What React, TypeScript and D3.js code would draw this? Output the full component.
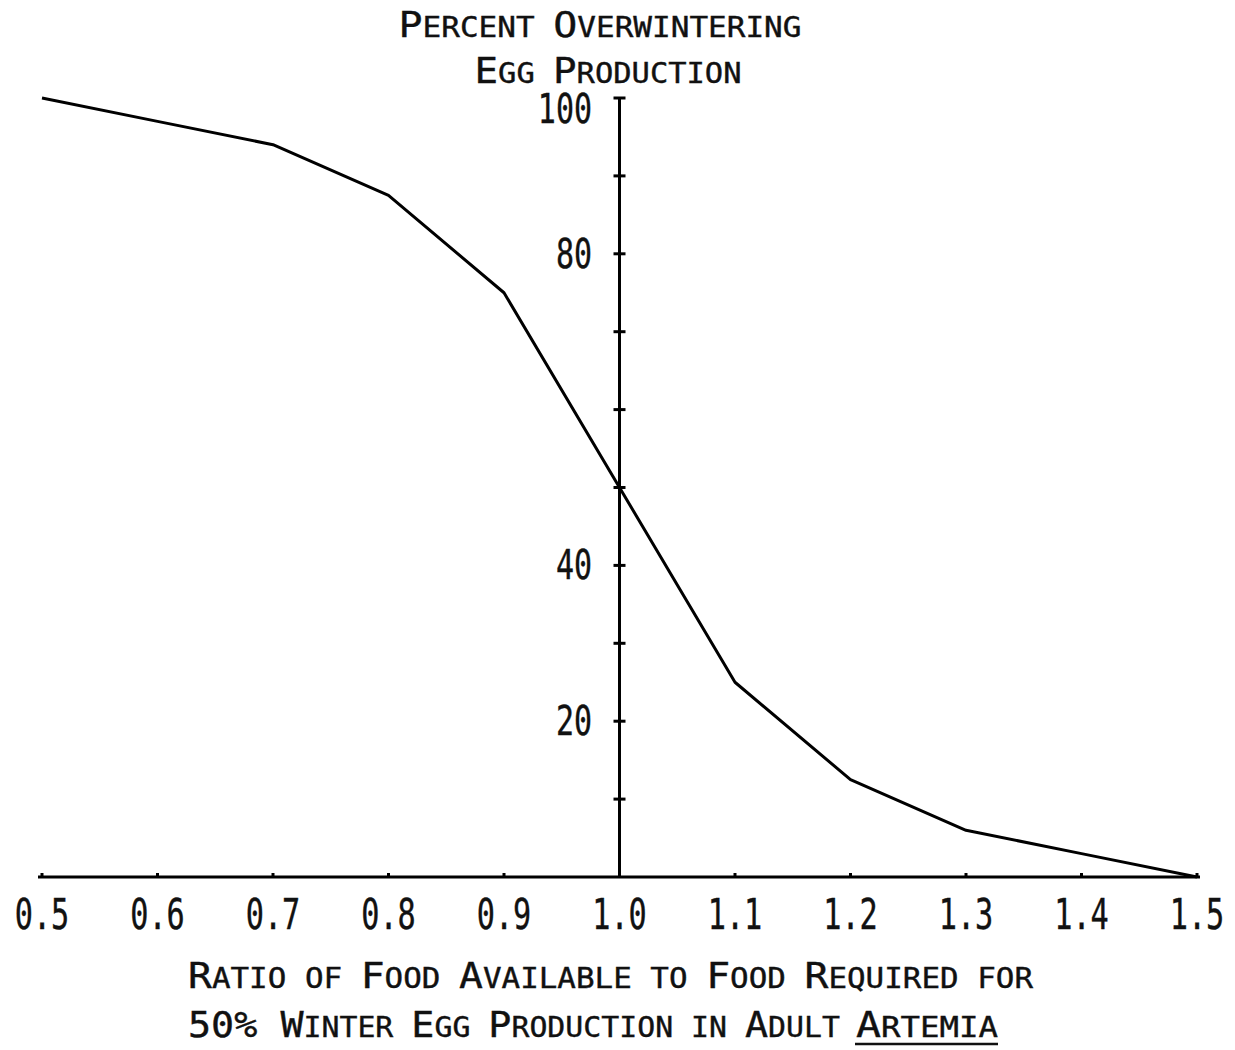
import React from "react";
import * as d3 from "d3";

// Ratio of food available to food required (x) vs. percent overwintering egg production (y)
const foodRatio = [0.5, 0.6, 0.7, 0.8, 0.9, 1.0, 1.1, 1.2, 1.3, 1.4, 1.5];
const eggProduction = [100, 97, 94, 87.5, 75, 50, 25, 12.5, 6, 3, 0];

const xTickValues = [0.5, 0.6, 0.7, 0.8, 0.9, 1.0, 1.1, 1.2, 1.3, 1.4, 1.5];
const yTickValues = [10, 20, 30, 40, 50, 60, 70, 80, 90, 100];
const yLabelValues = [20, 40, 80, 100];

// Small-caps title lines: [text, isCapital]
type Run = [string, boolean];
const titleLine1: Run[] = [["P", true], ["ERCENT ", false], ["O", true], ["VERWINTERING", false]];
const titleLine2: Run[] = [["E", true], ["GG ", false], ["P", true], ["RODUCTION", false]];
const xTitleLine1: Run[] = [
  ["R", true], ["ATIO OF ", false], ["F", true], ["OOD ", false], ["A", true],
  ["VAILABLE TO ", false], ["F", true], ["OOD ", false], ["R", true], ["EQUIRED FOR", false],
];
const xTitleLine2: Run[] = [
  ["50% W", true], ["INTER ", false], ["E", true], ["GG ", false], ["P", true],
  ["RODUCTION IN ", false], ["A", true], ["DULT", false],
];
const xTitleGenus: Run[] = [["A", true], ["RTEMIA", false]];

const FONT = "'DejaVu Sans Mono', 'Liberation Mono', monospace";
const CAP = 36;
const SMALL = 28;

function SmallCaps({ runs }: { runs: Run[] }) {
  return (
    <>
      {runs.map(([t, cap], i) => (
        <tspan key={i} fontSize={cap ? CAP : SMALL}>
          {t}
        </tspan>
      ))}
    </>
  );
}

export default function App() {
  const width = 1235;
  const height = 1050;

  const x = d3.scaleLinear().domain([0.5, 1.5]).range([42, 1197]);
  const y = d3.scaleLinear().domain([0, 100]).range([877, 98]);

  const line = d3
    .line<number>()
    .x((_, i) => x(foodRatio[i]))
    .y((d) => y(d))
    .curve(d3.curveLinear);

  const axisX = x(1.0);
  const axisY = y(0);

  return (
    <svg
      width={width}
      height={height}
      style={{ position: "absolute", left: 0, top: 0, background: "#fff" }}
      fontFamily={FONT}
    >
      <rect width={width} height={height} fill="#fff" />

      {/* Titles */}
      <text x={600} y={37} textAnchor="middle" textLength={403} lengthAdjust="spacingAndGlyphs" fill="#111" stroke="#111" strokeWidth={0.4}>
        <SmallCaps runs={titleLine1} />
      </text>
      <text x={608} y={83} textAnchor="middle" textLength={267} lengthAdjust="spacingAndGlyphs" fill="#111" stroke="#111" strokeWidth={0.4}>
        <SmallCaps runs={titleLine2} />
      </text>

      {/* x axis */}
      <line x1={38} x2={1200} y1={axisY} y2={axisY} stroke="#000" strokeWidth={3} />
      {xTickValues.map((v) => (
        <g key={`xt${v}`}>
          <line x1={x(v)} x2={x(v)} y1={axisY} y2={axisY - 4} stroke="#000" strokeWidth={3} />
          <text
            transform={`translate(${x(v)},929) scale(0.72,1)`}
            textAnchor="middle"
            fontSize={42}
            fill="#111"
            stroke="#111"
            strokeWidth={0.4}
          >
            {v.toFixed(1)}
          </text>
        </g>
      ))}

      {/* y axis */}
      <line x1={axisX} x2={axisX} y1={y(100)} y2={axisY} stroke="#000" strokeWidth={3} />
      {yTickValues.map((v) => (
        <line
          key={`yt${v}`}
          x1={axisX - 6}
          x2={axisX + 6}
          y1={y(v)}
          y2={y(v)}
          stroke="#000"
          strokeWidth={3}
        />
      ))}
      {yLabelValues.map((v) => (
        <text
          key={`yl${v}`}
          transform={`translate(592,${Math.max(y(v), y(100) + 11) + 14}) scale(0.75,1)`}
          textAnchor="end"
          fontSize={40}
          fill="#111"
          stroke="#111"
          strokeWidth={0.4}
        >
          {v}
        </text>
      ))}

      {/* Data line */}
      <path d={line(eggProduction) ?? ""} fill="none" stroke="#000" strokeWidth={3} strokeLinejoin="round" />

      {/* x-axis title */}
      <g fill="#111" stroke="#111" strokeWidth={0.4}>
        <text x={188} y={988} textLength={845} lengthAdjust="spacingAndGlyphs">
          <SmallCaps runs={xTitleLine1} />
        </text>
        <text x={188} y={1037} textLength={652} lengthAdjust="spacingAndGlyphs">
          <SmallCaps runs={xTitleLine2} />
        </text>
        <text x={856} y={1037} textLength={142} lengthAdjust="spacingAndGlyphs">
          <SmallCaps runs={xTitleGenus} />
        </text>
      </g>
      <line x1={855} x2={998} y1={1044} y2={1044} stroke="#111" strokeWidth={2.5} />
    </svg>
  );
}
